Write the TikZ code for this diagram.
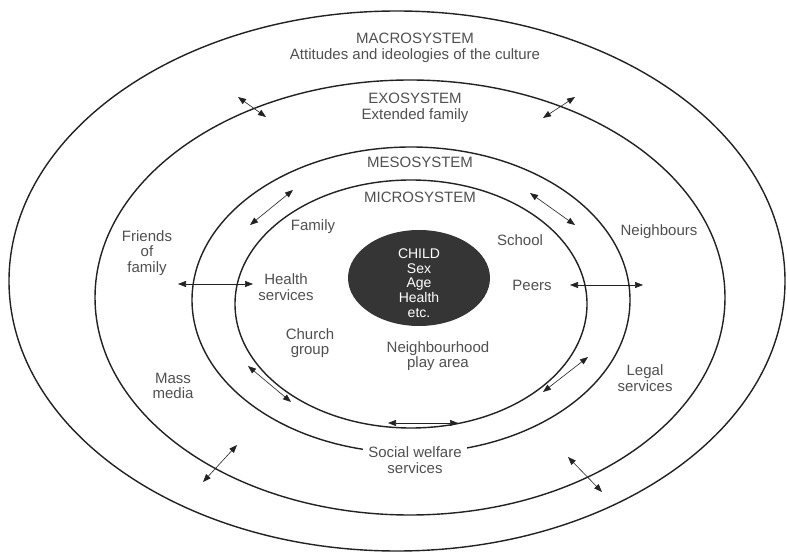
\documentclass[tikz,border=0pt]{standalone}
\usepackage{fontspec}
\setmainfont{Liberation Sans}
\usetikzlibrary{arrows.meta,shapes.geometric}
\definecolor{txt}{HTML}{505050}
\definecolor{ringc}{HTML}{222222}
\definecolor{childc}{HTML}{353535}
\begin{document}
\begin{tikzpicture}[x=1pt,y=-1pt,
  ring/.style={draw=ringc,line width=1.4pt},
  lbl/.style={text=txt,font=\fontsize{15}{15.5}\selectfont,align=center,inner sep=1pt},
  link/.style={draw=ringc,line width=0.6pt,{Triangle[length=8pt,width=6pt]}-{Triangle[length=8pt,width=6pt]}}]
\useasboundingbox[fill=white] (0,0) rectangle (787,553);
% rings
\draw[ring] (397,281) ellipse [x radius=388, y radius=270];
\draw[ring] (410,297.5) ellipse [x radius=315, y radius=217.5];
\draw[ring] (411,300) ellipse [x radius=219, y radius=153];
\draw[ring] (411,304) ellipse [x radius=176, y radius=124];
\node[ellipse,fill=childc,minimum width=142pt,minimum height=96pt,inner sep=0pt] (child) at (419,278) {};
\node[text=white,font=\fontsize{14}{14.7}\selectfont,align=center] (childtxt) at (419,283) {CHILD\\Sex\\Age\\Health\\etc.};
% labels
\node[lbl] (macro) at (415,48) {MACROSYSTEM\\Attitudes and ideologies of the culture};
\node[lbl] (exo) at (415,108) {EXOSYSTEM\\Extended family};
\node[lbl] (meso) at (420,162) {MESOSYSTEM};
\node[lbl] (micro) at (420,197) {MICROSYSTEM};
\node[lbl] (family) at (313,227) {Family};
\node[lbl] (school) at (520,240) {School};
\node[lbl] (friends) at (147,253) {Friends\\of\\family};
\node[lbl] (health) at (286,287) {Health\\services};
\node[lbl] (peers) at (532,285) {Peers};
\node[lbl] (neigh) at (659,232) {Neighbours};
\node[lbl] (church) at (310,343) {Church\\group};
\node[lbl] (play) at (438,356) {Neighbourhood\\play area};
\node[lbl] (mass) at (173,386) {Mass\\media};
\node[lbl] (legal) at (645,378) {Legal\\services};
\node[lbl,fill=white,inner xsep=5pt] (social) at (415,460) {Social welfare\\services};
% arrow end points
\coordinate (a1) at (238,97);  \coordinate (b1) at (266,117);
\coordinate (a2) at (575,97);  \coordinate (b2) at (543,118);
\coordinate (a3) at (293,190); \coordinate (b3) at (250,225);
\coordinate (a4) at (530,193); \coordinate (b4) at (575,225);
\coordinate (a5) at (178,284); \coordinate (b5) at (253,284);
\coordinate (a6) at (570,285); \coordinate (b6) at (643,285);
\coordinate (a7) at (248,366); \coordinate (b7) at (291,402);
\coordinate (a8) at (588,357); \coordinate (b8) at (543,392);
\coordinate (a9) at (388,423); \coordinate (b9) at (458,423);
\coordinate (a10) at (237,445); \coordinate (b10) at (203,482);
\coordinate (a11) at (568,457); \coordinate (b11) at (602,492);
\foreach \i in {1,...,11} {\draw[link] (a\i) -- (b\i);}
\end{tikzpicture}
\end{document}
